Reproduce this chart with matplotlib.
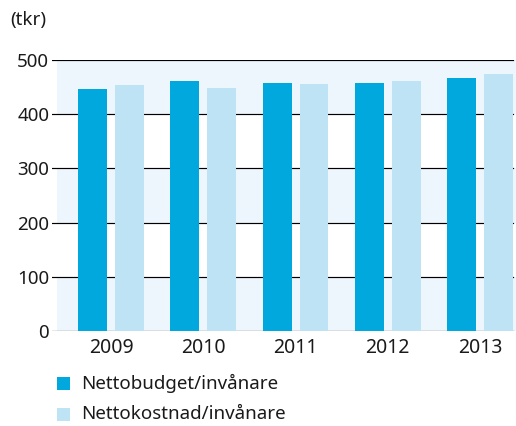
import matplotlib
matplotlib.use("Agg")
import matplotlib.pyplot as plt
from matplotlib.patches import Rectangle

years = ["2009", "2010", "2011", "2012", "2013"]
budget = [447, 462, 458, 457, 466]   # Nettobudget/invånare
kostnad = [453, 449, 455, 462, 475]  # Nettokostnad/invånare
yticks = [0, 100, 200, 300, 400, 500]
unit_label = "(tkr)"
legend_labels = ["Nettobudget/invånare", "Nettokostnad/invånare"]

DARK = "#00a8de"
LIGHT = "#bee3f4"
BAND = "#edf6fc"

plt.rcParams["font.family"] = ["Noto Sans", "DejaVu Sans"]

W, H = 516, 426
fig = plt.figure(figsize=(W / 100, H / 100), dpi=100)
# axes placed in pixel terms: left 52, right 516, zero line at 331, 500 line at 60
ax = fig.add_axes([52 / W, (H - 331) / H, (516 - 52) / W, (331 - 60) / H])
ax.set_xlim(-0.6396, 4.390)
ax.set_ylim(0, 500)
for s in ax.spines.values():
    s.set_visible(False)

# alternating background bands
for lo in (0, 200, 400):
    ax.axhspan(lo, lo + 100, xmin=5 / 464, xmax=1, color=BAND, lw=0, zorder=0)
for t in yticks:
    ax.axhline(t, xmin=0, xmax=461 / 464, color="black", lw=0.85, zorder=1)

x = range(len(years))
bw = 0.314
off = 0.2005
ax.bar([i - off for i in x], budget, bw, color=DARK, zorder=2)
ax.bar([i + off for i in x], kostnad, bw, color=LIGHT, zorder=2)

ax.set_yticks(yticks)
ax.set_yticklabels([str(t) for t in yticks], fontsize=13.5)
ax.set_xticks(list(x))
ax.set_xticklabels(years, fontsize=14)
ax.tick_params(axis="y", length=0, pad=2, colors="#1a1a1a")
ax.tick_params(axis="x", length=0, pad=5, colors="#1a1a1a")

fig.text(10 / W, 1 - 20 / H, unit_label, fontsize=13.5, va="center", ha="left", color="#1a1a1a")

# legend drawn by hand
for k, (lab, col) in enumerate(zip(legend_labels, [DARK, LIGHT])):
    yc = 383 + k * 31
    fig.patches.append(Rectangle((57 / W, 1 - (yc + 6.5) / H), 13 / W, 13 / H,
                                 transform=fig.transFigure, color=col, lw=0))
    fig.text(81 / W, 1 - yc / H, lab, fontsize=13.5, va="center", ha="left", color="#1a1a1a")

fig.savefig("out.png", dpi=100)
